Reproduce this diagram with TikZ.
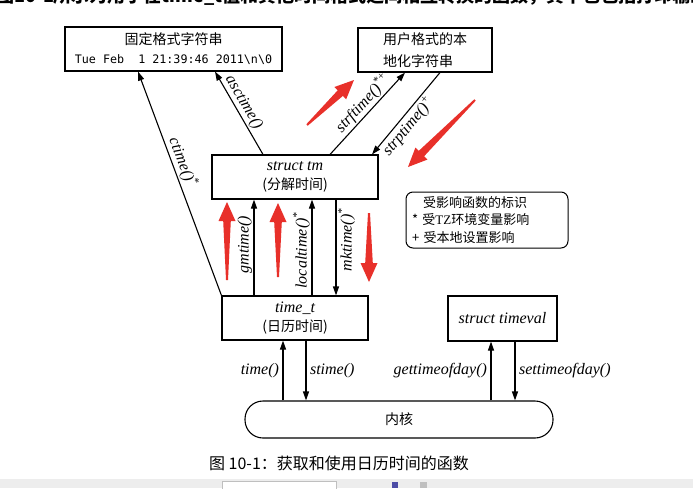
\documentclass[tikz,border=0pt]{standalone}
\usepackage{fontspec}
\setmainfont{Liberation Serif}
\setmonofont{DejaVu Sans Mono}
\newfontfamily\cjk{Noto Sans CJK SC}
\usepackage{tikz}
\usetikzlibrary{arrows.meta, calc, positioning}
\definecolor{pfeilrot}{RGB}{232,48,42}
\newcommand{\rotpfeil}[3]{%
  \coordinate (#1h) at ($(#3)!19pt!(#2)$);
  \fill[pfeilrot] ($(#2)!1pt!90:(#3)$) -- ($(#1h)!3.8pt!90:(#3)$)
    -- ($(#1h)!8.5pt!90:(#3)$) -- (#3) -- ($(#1h)!8.5pt!-90:(#3)$)
    -- ($(#1h)!3.8pt!-90:(#3)$) -- ($(#2)!1pt!-90:(#3)$) -- cycle;%
}

\begin{document}
\begin{tikzpicture}[x=1pt, y=-1pt,
    >={Triangle[length=9pt, width=6pt]},
    kasten/.style={draw, line width=1.1pt, inner sep=0pt, align=center,
      font=\fontsize{14}{19}\selectfont},
    lbl/.style={font=\fontsize{16}{18}\selectfont\itshape, inner sep=1.5pt},
    linie/.style={line width=1.1pt}]
  \useasboundingbox (0,0) rectangle (693,488);
  \clip (0,0) rectangle (693,488);
  % angeschnittene Textzeile oben
  \node[anchor=base west, inner sep=0pt, font=\cjk\bfseries\fontsize{18}{18}\selectfont]
    (kopf) at (-4,2) {图10-1所示为用于在time\_t值和其他时间格式之间相互转换的函数，其中也包括打印输出};

  \node[kasten, minimum width=217pt, minimum height=44pt] (fest) at (173.5,49)
    {{\cjk 固定格式字符串}\\[0pt]{\ttfamily\fontsize{11.7}{14}\selectfont Tue Feb\ \ 1 21:39:46 2011\textbackslash n\textbackslash 0}};
  \node[kasten, minimum width=134pt, minimum height=44pt, inner xsep=25pt,
    text width=84pt, align=left] (lokal) at (425,50) {\cjk 用户格式的本\\[3pt]地化字符串};
  \node[kasten, minimum width=166pt, minimum height=44pt] (tm) at (295,177)
    {{\fontsize{16}{18}\selectfont\itshape struct tm}\\{\cjk (分解时间)}};
  \node[kasten, minimum width=146pt, minimum height=44pt] (timet) at (295,318)
    {{\fontsize{16}{18}\selectfont\itshape time\_t}\\{\cjk (日历时间)}};
  \node[kasten, minimum width=109pt, minimum height=45pt,
    font=\fontsize{16}{18}\selectfont\itshape] (timeval) at (502.5,318.5) {struct timeval};
  \node[kasten, minimum width=308pt, minimum height=37pt, rounded corners=18pt,
    font=\cjk\fontsize{14}{16}\selectfont] (kern) at (399,419.5) {内核};
  \node[draw, line width=1pt, rounded corners=7pt, minimum height=56pt, inner xsep=6pt,
    text width=150pt, align=left, font=\cjk\fontsize{13}{17.5}\selectfont] (legende) at (487,220)
    {\hspace{11pt}受影响函数的标识\\\mbox{*} 受{\rmfamily TZ}环境变量影响\\\mbox{+} 受本地设置影响};

  % Umwandlungen
  \draw[linie, ->] (timet.north west) -- ([xshift=-35.5pt]fest.south)
    node[lbl, pos=.58, sloped, above] {ctime()\textsuperscript{*}};
  \draw[linie, ->] ([xshift=-32pt]tm.north) -- ([xshift=41.5pt]fest.south)
    node[lbl, pos=.57, sloped, above] {asctime()};
  \draw[linie, ->] ([xshift=35pt]tm.north) -- ([xshift=-20pt]lokal.south)
    node[lbl, pos=.54, sloped, above] {strftime()\textsuperscript{*+}};
  \draw[linie, <-] ([xshift=77pt]tm.north) -- ([xshift=15pt]lokal.south)
    node[lbl, pos=.42, sloped, below] {strptime()\textsuperscript{+}};
  \draw[linie, ->] ([xshift=-41pt]timet.north) -- ([xshift=-41pt]tm.south)
    node[lbl, pos=.53, sloped, above] {gmtime()};
  \draw[linie, ->] ([xshift=17pt]timet.north) -- ([xshift=17pt]tm.south)
    node[lbl, pos=.47, sloped, above] {localtime()\textsuperscript{*}};
  \draw[linie, <-] ([xshift=41pt]timet.north) -- ([xshift=41pt]tm.south)
    node[lbl, pos=.58, sloped, below] {mktime()\textsuperscript{*}};

  % Kern
  \draw[linie, ->] ([xshift=-12pt]timet.south |- kern.north) -- ([xshift=-12pt]timet.south)
    node[lbl, midway, left=2pt] {time()};
  \draw[linie, ->] ([xshift=11pt]timet.south) -- ([xshift=11pt]timet.south |- kern.north)
    node[lbl, midway, right=2pt] {stime()};
  \draw[linie, ->] ([xshift=-11.5pt]timeval.south |- kern.north) -- ([xshift=-11.5pt]timeval.south)
    node[lbl, midway, left=2pt] {gettimeofday()};
  \draw[linie, ->] ([xshift=12.5pt]timeval.south) -- ([xshift=12.5pt]timeval.south |- kern.north)
    node[lbl, midway, right=2pt] {settimeofday()};

  % rote Markierungen
  \rotpfeil{ra}{227,280}{227,202}
  \rotpfeil{rb}{278,277}{278,203}
  \rotpfeil{rc}{369,213}{369,282}
  \rotpfeil{rd}{307,125}{354,80}
  \rotpfeil{re}{475,100}{408,167}

  \node[font=\cjk\fontsize{16}{18}\selectfont, text=black] (titel) at (339,463)
    {图 10-1：获取和使用日历时间的函数};

  % Leiste unten
  \fill[black!7] (0,479) rectangle (693,488);
  \draw[black!25, fill=white] (222,481) rectangle (336,489);
  \fill[blue!50!black!70] (392,482) rectangle (398,488);
  \fill[black!25] (420,482) rectangle (427,488);
\end{tikzpicture}
\end{document}
